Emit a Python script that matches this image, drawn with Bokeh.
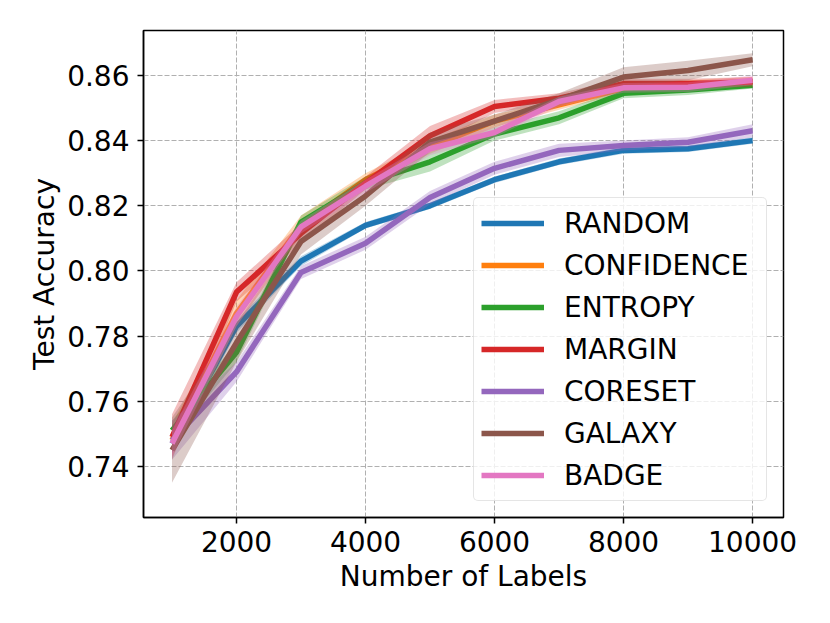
from bokeh.plotting import figure
from bokeh.embed import file_html
from bokeh.resources import INLINE
from bokeh.models import FixedTicker, PrintfTickFormatter, Range1d

# ---- data ----
labels_x = [1000, 2000, 3000, 4000, 5000, 6000, 7000, 8000, 9000, 10000]
series_names = ["RANDOM", "CONFIDENCE", "ENTROPY", "MARGIN", "CORESET", "GALAXY", "BADGE"]

random_mean = [0.747, 0.783, 0.803, 0.814, 0.820, 0.828, 0.8335, 0.837, 0.8375, 0.840]
confidence_mean = [0.748, 0.787, 0.814, 0.828, 0.838, 0.846, 0.851, 0.856, 0.857, 0.858]
entropy_mean = [0.751, 0.775, 0.815, 0.827, 0.8335, 0.842, 0.847, 0.8545, 0.8555, 0.857]
margin_mean = [0.749, 0.7935, 0.8115, 0.827, 0.8415, 0.8505, 0.853, 0.8575, 0.8575, 0.858]
coreset_mean = [0.748, 0.769, 0.7995, 0.8085, 0.8225, 0.8315, 0.837, 0.8385, 0.8395, 0.843]
galaxy_mean = [0.745, 0.778, 0.809, 0.823, 0.8395, 0.846, 0.8525, 0.8595, 0.8615, 0.8648]
badge_mean = [0.747, 0.786, 0.8135, 0.826, 0.8375, 0.8425, 0.852, 0.8562, 0.8564, 0.8585]

random_std = [0.003, 0.002, 0.0015, 0.001, 0.001, 0.001, 0.001, 0.001, 0.001, 0.001]
confidence_std = [0.005, 0.004, 0.003, 0.002, 0.002, 0.002, 0.0015, 0.0015, 0.0015, 0.0015]
entropy_std = [0.003, 0.003, 0.002, 0.002, 0.003, 0.002, 0.002, 0.0015, 0.0015, 0.001]
margin_std = [0.007, 0.003, 0.003, 0.002, 0.003, 0.002, 0.0015, 0.0015, 0.0015, 0.0015]
coreset_std = [0.006, 0.003, 0.002, 0.002, 0.002, 0.002, 0.002, 0.0015, 0.0015, 0.002]
galaxy_std = [0.010, 0.006, 0.004, 0.003, 0.003, 0.002, 0.002, 0.003, 0.003, 0.002]
badge_std = [0.004, 0.003, 0.002, 0.002, 0.002, 0.0015, 0.0015, 0.0015, 0.0015, 0.0015]

colors = ["#1f77b4", "#ff7f0e", "#2ca02c", "#d62728", "#9467bd", "#8c564b", "#e377c2"]

y_ticks = [0.74, 0.76, 0.78, 0.80, 0.82, 0.84, 0.86]
x_ticks = [2000, 4000, 6000, 8000, 10000]

means = [random_mean, confidence_mean, entropy_mean, margin_mean, coreset_mean, galaxy_mean, badge_mean]
stds = [random_std, confidence_std, entropy_std, margin_std, coreset_std, galaxy_std, badge_std]

FONT = "DejaVu Sans"

p = figure(width=810, height=600, output_backend="svg", toolbar_location=None,
           x_range=Range1d(558, 10480), y_range=Range1d(0.7243, 0.8738),
           min_border_left=143, min_border_right=27, min_border_top=30, min_border_bottom=83)

for name, m, s, c in zip(series_names, means, stds, colors):
    lo = [a - b for a, b in zip(m, s)]
    hi = [a + b for a, b in zip(m, s)]
    p.varea(x=labels_x, y1=lo, y2=hi, fill_color=c, fill_alpha=0.3)
    p.line(labels_x, m, line_color=c, line_width=5.5, legend_label=name)

p.xaxis.ticker = FixedTicker(ticks=x_ticks)
p.yaxis.ticker = FixedTicker(ticks=y_ticks)
p.yaxis.formatter = PrintfTickFormatter(format="%.2f")

p.xaxis.axis_label = "Number of Labels"
p.yaxis.axis_label = "Test Accuracy"
for ax in (p.xaxis, p.yaxis):
    ax.axis_label_text_font = FONT
    ax.axis_label_text_font_size = "28px"
    ax.axis_label_text_font_style = "normal"
    ax.axis_label_text_color = "black"
    ax.major_label_text_font = FONT
    ax.major_label_text_font_size = "28px"
    ax.major_label_text_color = "black"
    ax.major_tick_out = 6
    ax.major_tick_in = 0
    ax.minor_tick_out = 0
    ax.minor_tick_in = 0
    ax.axis_line_color = "black"
    ax.axis_line_width = 1.5
    ax.major_tick_line_width = 1.5
p.xaxis.major_label_standoff = 7
p.xaxis.axis_label_standoff = 5
p.yaxis.major_label_standoff = 8
p.yaxis.axis_label_standoff = 3

p.outline_line_color = "black"
p.outline_line_width = 1.5

for g in (p.xgrid, p.ygrid):
    g.grid_line_color = "#b0b0b0"
    g.grid_line_dash = "5 2"
    g.grid_line_width = 1

lg = p.legend[0]
lg.location = "bottom_right"
lg.margin = 16
lg.padding = 7
lg.spacing = 6
lg.glyph_width = 63
lg.glyph_height = 36
lg.label_height = 36
lg.label_width = 195
lg.label_standoff = 20
lg.label_text_font = FONT
lg.label_text_font_size = "28px"
lg.label_text_color = "black"
lg.border_line_color = "#cccccc"
lg.border_line_width = 1
lg.background_fill_alpha = 0.8
try:
    lg.border_radius = 5
except Exception:
    pass

open("out.html", "w").write(file_html(p, INLINE))
